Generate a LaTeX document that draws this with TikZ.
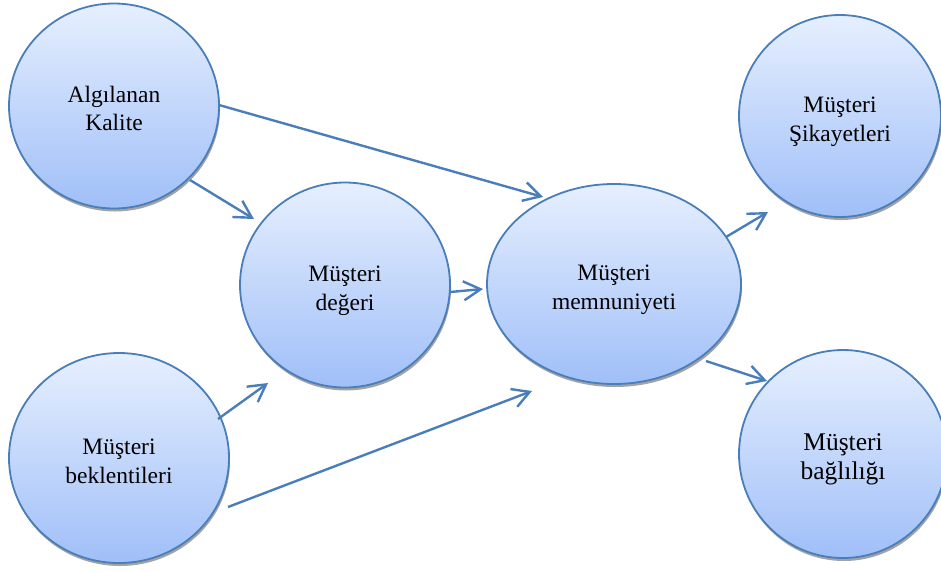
\documentclass[tikz,border=0pt]{standalone}
\usepackage{fontspec}
\setmainfont{Liberation Serif}
\usetikzlibrary{shapes.geometric,shadows,calc,arrows.meta}
\definecolor{edgeblue}{RGB}{74,126,187}
\definecolor{topfill}{RGB}{230,239,254}
\definecolor{botfill}{RGB}{160,191,248}
\newcommand\twolines[3][27.5pt]{\rule{0pt}{#1}#2\\#3\rule[-6pt]{0pt}{6pt}}
\begin{document}
\begin{tikzpicture}[x=1pt,y=-1pt,
  bubble/.style={ellipse, draw=edgeblue, line width=1.8pt,
    top color=topfill, bottom color=botfill, inner sep=0pt, align=center,
    font=\fontsize{23.5}{28.5}\selectfont,
    drop shadow={shadow xshift=1pt, shadow yshift=-3pt, fill=black!45, opacity=0.8}},
  link/.style={draw=edgeblue, line width=2.4pt,
    -{Straight Barb[length=17pt,width=19pt]}}]
\useasboundingbox (0,0) rectangle (941,571);
\node[bubble, minimum width=210pt, minimum height=205pt] (kal) at (114,106) {\twolines[26.5pt]{Algılanan}{Kalite}};
\node[bubble, minimum width=210pt, minimum height=205pt] (deg) at (345,285) {\twolines{Müşteri}{değeri}};
\node[bubble, minimum width=254pt, minimum height=200pt] (mem) at (614,284) {\twolines{Müşteri}{memnuniyeti}};
\node[bubble, minimum width=202pt, minimum height=202pt] (sik) at (840,116) {\twolines{Müşteri}{Şikayetleri}};
\node[bubble, minimum width=208pt, minimum height=208pt, font=\fontsize{25.5}{29}\selectfont] (bag) at (843,454) {\twolines[27pt]{Müşteri}{bağlılığı}};
\node[bubble, minimum width=220pt, minimum height=210pt] (bek) at (119,458) {\twolines{Müşteri}{beklentileri}};

\draw[link] ($(kal.center)+(105,-1)$) -- ($(mem.center)+(-71,-87)$);
\draw[link] ($(kal.center)+(76,74)$) -- ($(deg.center)+(-91,-66)$);
\draw[link] ($(deg.center)+(105,7)$) -- ($(mem.center)+(-131,5)$);
\draw[link] ($(mem.center)+(112,-47)$) -- ($(sik.center)+(-72,96)$);
\draw[link] ($(mem.center)+(92,77)$) -- ($(bag.center)+(-76,-73)$);
\draw[link] ($(bek.center)+(99,-39)$) -- ($(deg.center)+(-77,98)$);
\draw[link] ($(bek.center)+(109,49)$) -- ($(mem.center)+(-82,107)$);
\end{tikzpicture}
\end{document}
